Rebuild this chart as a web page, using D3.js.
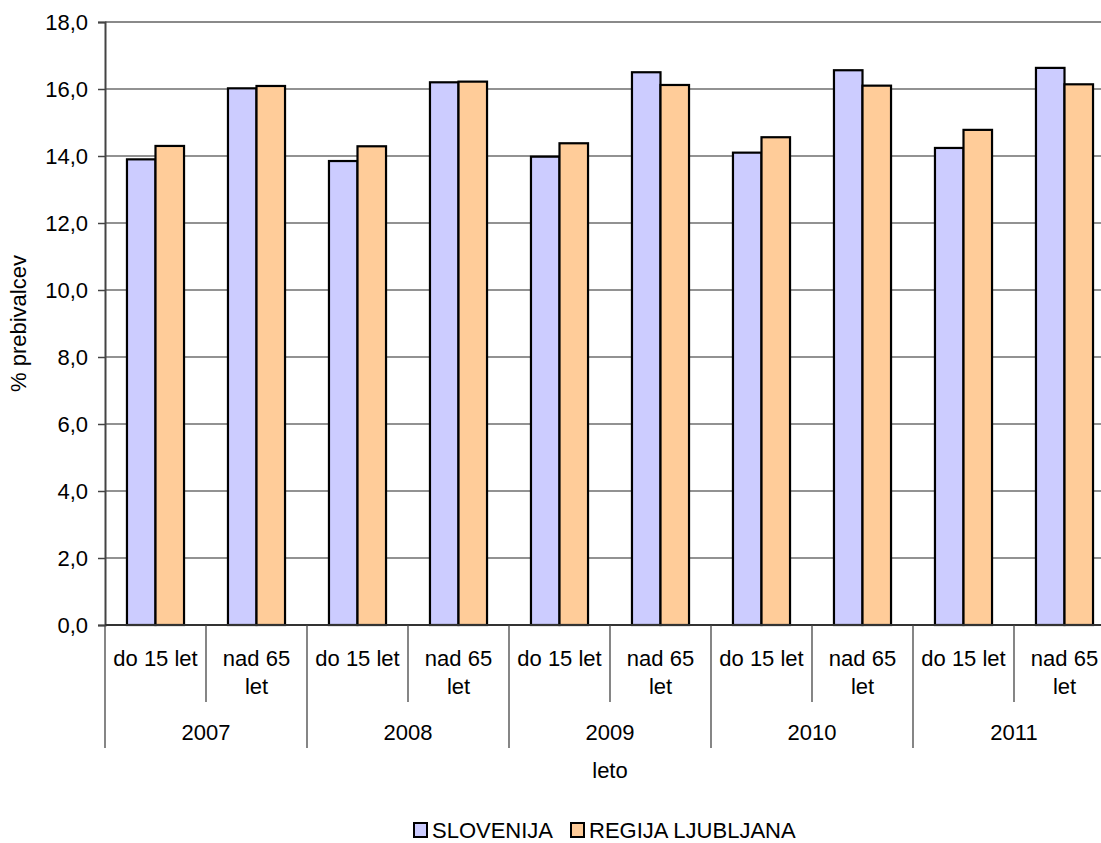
<!DOCTYPE html>
<html>
<head>
<meta charset="utf-8">
<script src="https://cdn.jsdelivr.net/npm/d3@7"></script>
<style>
  html, body { margin: 0; padding: 0; background: #fff; }
  svg { display: block; font-family: "Liberation Sans", Arial, sans-serif; }
</style>
</head>
<body>
<svg id="chart" width="1101" height="843"></svg>
<script>
// Share of population by age group, Slovenia vs. Ljubljana region
const years = ["2007", "2008", "2009", "2010", "2011"];
const ageGroups = ["do 15 let", "nad 65 let"];
const seriesNames = ["SLOVENIJA", "REGIJA LJUBLJANA"];
const seriesColors = ["#CCCCFF", "#FFCC99"];
// values per (year, age group), in order 2007 do15, 2007 nad65, 2008 do15, ...
const slovenija = [13.9, 16.02, 13.85, 16.2, 13.98, 16.5, 14.1, 16.56, 14.24, 16.63];
const ljubljana = [14.3, 16.09, 14.29, 16.22, 14.38, 16.12, 14.56, 16.1, 14.78, 16.14];
const yTicks = [0, 2, 4, 6, 8, 10, 12, 14, 16, 18];

const svg = d3.select("#chart");
const FONT = 22;
const plot = { left: 105, right: 1115, top: 22, bottom: 625 };

const leaves = [];
years.forEach((yr, i) => ageGroups.forEach((ag, j) => {
  const k = i * ageGroups.length + j;
  leaves.push({ id: yr + "|" + ag, year: yr, group: ag, values: [slovenija[k], ljubljana[k]] });
}));

const x0 = d3.scaleBand().domain(leaves.map(d => d.id)).range([plot.left, plot.right]).padding(0);
const x1 = d3.scaleBand().domain(seriesNames).range([0, x0.bandwidth()]).paddingInner(0).paddingOuter(0.77);
const xYear = d3.scaleBand().domain(years).range([plot.left, plot.right]).padding(0);
const y = d3.scaleLinear().domain([0, 18]).range([plot.bottom, plot.top]);

const fmt = v => d3.format(".1f")(v).replace(".", ",");

// gridlines
svg.append("g")
  .selectAll("line")
  .data(yTicks.filter(t => t > 0))
  .join("line")
  .attr("x1", plot.left).attr("x2", plot.right)
  .attr("y1", d => y(d)).attr("y2", d => y(d))
  .attr("stroke", d => d === 18 ? "#8a8a8a" : "#6e6e6e")
  .attr("stroke-width", d => d === 18 ? 2 : 1.3);

// bars
const groups = svg.append("g")
  .selectAll("g")
  .data(leaves)
  .join("g")
  .attr("transform", d => `translate(${x0(d.id)},0)`);

groups.selectAll("rect")
  .data(d => d.values.map((v, i) => ({ key: seriesNames[i], value: v, color: seriesColors[i] })))
  .join("rect")
  .attr("x", d => x1(d.key))
  .attr("width", x1.bandwidth())
  .attr("y", d => y(d.value))
  .attr("height", d => y(0) - y(d.value))
  .attr("fill", d => d.color)
  .attr("stroke", "#000")
  .attr("stroke-width", 2.2);

// y axis
const yAxis = svg.append("g")
  .attr("transform", `translate(${plot.left},0)`)
  .call(d3.axisLeft(y).tickValues(yTicks).tickFormat(fmt).tickSize(7).tickPadding(10));
yAxis.select(".domain").attr("stroke", "#444").attr("stroke-width", 2);
yAxis.selectAll(".tick line").attr("stroke", "#444").attr("stroke-width", 1.5);
yAxis.selectAll(".tick text").attr("font-size", FONT).attr("fill", "#000")
  .attr("font-family", "Liberation Sans, Arial, sans-serif");

// category axis baseline
svg.append("line")
  .attr("x1", plot.left).attr("x2", plot.right)
  .attr("y1", y(0)).attr("y2", y(0))
  .attr("stroke", "#333").attr("stroke-width", 2);

// leaf dividers
const leafBounds = leaves.map(d => x0(d.id));
svg.append("g").selectAll("line")
  .data(leafBounds.filter((b, i) => i % ageGroups.length !== 0))
  .join("line")
  .attr("x1", d => d).attr("x2", d => d)
  .attr("y1", plot.bottom).attr("y2", 702)
  .attr("stroke", "#444").attr("stroke-width", 1.3);

// year dividers
svg.append("g").selectAll("line")
  .data(years.map(yr => xYear(yr)).concat([plot.right]))
  .join("line")
  .attr("x1", d => d).attr("x2", d => d)
  .attr("y1", plot.bottom).attr("y2", 748)
  .attr("stroke", "#444").attr("stroke-width", 1.3);

// leaf labels with wrapping
const leafLabels = svg.append("g").selectAll("text")
  .data(leaves)
  .join("text")
  .attr("x", d => x0(d.id) + x0.bandwidth() / 2)
  .attr("y", 666)
  .attr("text-anchor", "middle")
  .attr("font-size", FONT)
  .attr("fill", "#000");

leafLabels.each(function (d) {
  const t = d3.select(this);
  const words = d.group.split(" ");
  const maxW = x0.bandwidth() - 6;
  let line = [];
  let tspan = t.append("tspan").attr("x", t.attr("x")).attr("dy", 0);
  words.forEach(w => {
    line.push(w);
    tspan.text(line.join(" "));
    if (tspan.node().getComputedTextLength() > maxW && line.length > 1) {
      line.pop();
      tspan.text(line.join(" "));
      line = [w];
      tspan = t.append("tspan").attr("x", t.attr("x")).attr("dy", 28).text(w);
    }
  });
});

// year labels
svg.append("g").selectAll("text")
  .data(years)
  .join("text")
  .attr("x", d => xYear(d) + xYear.bandwidth() / 2)
  .attr("y", 740)
  .attr("text-anchor", "middle")
  .attr("font-size", FONT)
  .attr("fill", "#000")
  .text(d => d);

// axis titles
svg.append("text")
  .attr("x", (plot.left + plot.right) / 2)
  .attr("y", 778)
  .attr("text-anchor", "middle")
  .attr("font-size", FONT)
  .text("leto");

svg.append("text")
  .attr("transform", `translate(26,${(plot.top + plot.bottom) / 2}) rotate(-90)`)
  .attr("text-anchor", "middle")
  .attr("font-size", FONT)
  .text("% prebivalcev");

// legend
const legend = svg.append("g").attr("transform", "translate(413,822)");
const legendOffsets = [0, 157];
seriesNames.forEach((name, i) => {
  const g = legend.append("g").attr("transform", `translate(${legendOffsets[i]},0)`);
  g.append("rect")
    .attr("x", 1).attr("y", 1).attr("width", 13).attr("height", 14)
    .attr("fill", seriesColors[i]).attr("stroke", "#000").attr("stroke-width", 2);
  g.append("text")
    .attr("x", 19).attr("y", 16)
    .attr("font-size", FONT)
    .text(name);
});
</script>
</body>
</html>
